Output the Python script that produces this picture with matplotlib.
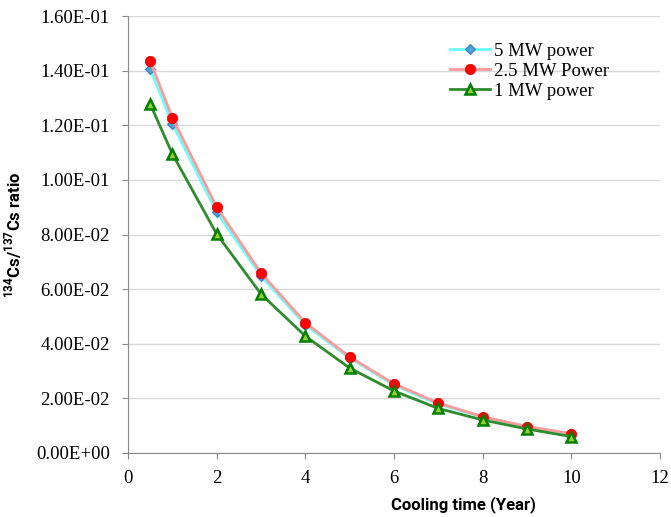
import matplotlib.pyplot as plt
from matplotlib.font_manager import FontProperties

# cooling time (year) and 134Cs/137Cs ratio per reactor power
cooling_time = [0.5, 1, 2, 3, 4, 5, 6, 7, 8, 9, 10]
ratio_5mw = [0.1406, 0.1205, 0.0882, 0.0648, 0.0469, 0.0348, 0.0249, 0.0179, 0.0132, 0.0095, 0.0070]
ratio_2_5mw = [0.1435, 0.1228, 0.0900, 0.0659, 0.0477, 0.0352, 0.0253, 0.0183, 0.0133, 0.0097, 0.0071]
ratio_1mw = [0.1278, 0.1095, 0.0802, 0.0582, 0.0428, 0.0311, 0.0227, 0.0163, 0.0121, 0.0088, 0.0060]

x_ticks = [0, 2, 4, 6, 8, 10, 12]
y_ticks = [0.0, 0.02, 0.04, 0.06, 0.08, 0.10, 0.12, 0.14, 0.16]
y_ticklabels = ['0.00E+00', '2.00E-02', '4.00E-02', '6.00E-02', '8.00E-02',
                '1.00E-01', '1.20E-01', '1.40E-01', '1.60E-01']

serif = 'Liberation Serif'
sans = ['Roboto', 'DejaVu Sans']
plt.rcParams['mathtext.fontset'] = 'custom'
plt.rcParams['mathtext.rm'] = 'Roboto'
plt.rcParams['mathtext.bf'] = 'Roboto:bold'

fig = plt.figure(figsize=(6.71, 5.17), dpi=100)
ax = fig.add_axes([0.1908, 0.1238, 0.7928, 0.8452])

ax.plot(cooling_time, ratio_5mw, color='#66ffff', lw=2.0, marker='D', ms=5,
        mfc='#4aa3d6', mec='#3a7fc0', mew=0.8, label='5 MW power', zorder=3)
ax.plot(cooling_time, ratio_2_5mw, color='#ff9999', lw=2.0, marker='o', ms=7.5,
        mfc='#ff0000', mec='#e00000', mew=0.5, label='2.5 MW Power', zorder=4)
ax.plot(cooling_time, ratio_1mw, color='#2e8b2e', lw=2.0, marker='^', ms=7,
        mfc='#9acd32', mec='#008000', mew=1.8, label='1 MW power', zorder=5)

ax.set_xlim(0, 12)
ax.set_ylim(0, 0.16)
tick_font = FontProperties(family=serif, size=13.5)
ax.set_xticks(x_ticks)
ax.set_xticklabels([str(t) for t in x_ticks], fontproperties=tick_font)
ax.set_yticks(y_ticks)
ax.set_yticklabels(y_ticklabels, fontproperties=tick_font)

ax.grid(axis='y', color='#d9d9d9', lw=1)
ax.set_axisbelow(True)
for s in ['top', 'right']:
    ax.spines[s].set_visible(False)
for s in ['left', 'bottom']:
    ax.spines[s].set_color('#888888')
ax.tick_params(axis='both', colors='#888888', labelcolor='black', length=4,
               direction='out')
ax.tick_params(axis='y', pad=9)
ax.tick_params(axis='x', pad=8)

ax.set_xlabel('Cooling time (Year)', family=sans, fontweight='bold', fontsize=12)
ax.xaxis.set_label_coords(0.63, -0.098)
ax.set_ylabel(r'$^{\mathbf{134}}$Cs/$^{\mathbf{137}}$Cs ratio', family=sans,
              fontweight='bold', fontsize=12)
ax.yaxis.set_label_coords(-0.195, 0.5)

ax.legend(loc='upper right', bbox_to_anchor=(0.925, 0.965), frameon=False,
          prop={'family': serif, 'size': 13.5}, handlelength=2.15,
          labelspacing=0.15, borderaxespad=0.2, handletextpad=0.2)

fig.savefig('out.png', dpi=100)
